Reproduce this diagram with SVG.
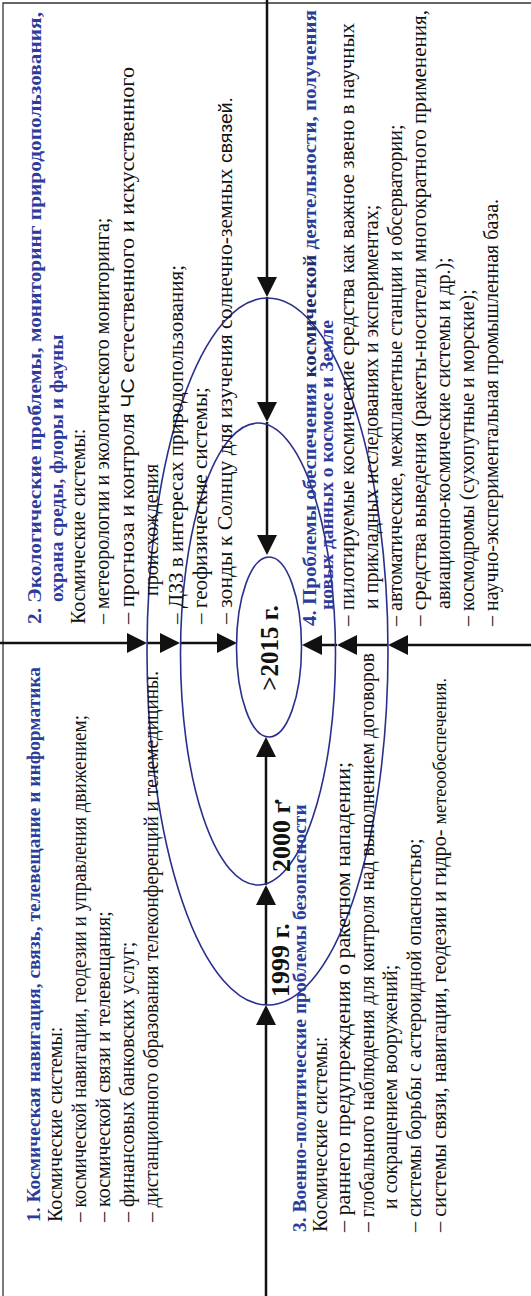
<svg xmlns="http://www.w3.org/2000/svg" width="531" height="1296" viewBox="0 0 531 1296" xml:space="preserve">
<defs>
<marker id="ah" viewBox="0 0 20 20" markerWidth="20" markerHeight="20" refX="16" refY="10" orient="auto" markerUnits="userSpaceOnUse"><path d="M0,0 L20,10 L0,20 z" fill="#111"/></marker>
</defs>
<style>
.ax{stroke:#111;stroke-width:2.5;fill:none;marker-end:url(#ah)}
.el{fill:none;stroke:#2b2f8c;stroke-width:1.6}
.t{font-family:"Liberation Serif","Times New Roman",serif;font-size:20px;fill:#111}
.h{font-family:"Liberation Serif","Times New Roman",serif;font-size:19.5px;font-weight:bold;fill:#2b3c9b}
.yr{font-family:"Liberation Serif","Times New Roman",serif;font-weight:bold;fill:#111}
.frame{stroke:#333;stroke-width:1.3;fill:none}
.sans{font-family:"Liberation Sans",Arial,sans-serif}
</style>
<rect width="531" height="1296" fill="#fff"/>
<path class="frame" d="M3,1296 V3 H531"/>

<g id="connectors">
<line class="ax" x1="0" y1="643" x2="143" y2="643"/>
<line class="ax" x1="147" y1="643" x2="176" y2="643"/>
<line class="ax" x1="180" y1="643" x2="233" y2="643"/>
<line class="ax" x1="531" y1="645" x2="392" y2="645"/>
<line class="ax" x1="388" y1="645" x2="341" y2="645"/>
<line class="ax" x1="337" y1="645" x2="306" y2="645"/>
<line class="ax" x1="267" y1="0" x2="267" y2="293"/>
<line class="ax" x1="267" y1="297" x2="267" y2="418"/>
<line class="ax" x1="267" y1="422" x2="267" y2="551"/>
<line class="ax" x1="266" y1="1296" x2="266" y2="1009"/>
<line class="ax" x1="266" y1="1005" x2="266" y2="889"/>
<line class="ax" x1="266" y1="885" x2="266" y2="741"/>
</g>

<g id="e1999"><ellipse class="el" cx="267.5" cy="651.5" rx="120.5" ry="353.5"/></g>
<g id="e2000"><ellipse class="el" cx="258" cy="654" rx="77.5" ry="231"/></g>
<g id="e2015"><ellipse class="el" cx="269" cy="647" rx="32.5" ry="90"/></g>

<g transform="rotate(-90)">
<g id="y2015"><text class="yr" font-size="25" x="-648" y="278" text-anchor="middle">&gt;2015 г.</text></g>
<g id="y1999"><text class="yr" font-size="26" x="-997" y="289">1999 г.</text></g>
<g id="y2000"><text class="yr" font-size="26" x="-872" y="290">2000 г<tspan dy="-11">.</tspan></text></g>

<g id="n1">
<text class="h" x="-1222" y="40" textLength="555" lengthAdjust="spacingAndGlyphs">1. Космическая навигация, связь, телевещание и информатика</text>
<text class="t" x="-1222" y="62">Космические системы:</text>
<text class="t" x="-1222" y="86" textLength="507" lengthAdjust="spacingAndGlyphs">– космической навигации, геодезии и управления движением;</text>
<text class="t" x="-1222" y="110">– космической связи и телевещания;</text>
<text class="t" x="-1222" y="134">– финансовых банковских услуг;</text>
<text class="t" x="-1222" y="158" textLength="551" lengthAdjust="spacingAndGlyphs">– дистанционного образования телеконференций и телемедицины.</text>
</g>

<g id="n2">
<text class="h" x="-624" y="41" textLength="612" lengthAdjust="spacingAndGlyphs">2. Экологические проблемы, мониторинг природопользования,</text>
<text class="h" x="-602" y="63">охрана среды, флоры и фауны</text>
<text class="t" x="-624" y="85">Космические системы:</text>
<text class="t" x="-624" y="109">– метеорологии и экологического  мониторинга;</text>
<text class="t" x="-624" y="134" textLength="557" lengthAdjust="spacingAndGlyphs">– прогноза и контроля <tspan class="sans" font-size="19">ЧС</tspan> естественного и искусственного</text>
<text class="t" x="-596" y="158">происхождения</text>
<text class="t" x="-624" y="183" textLength="359" lengthAdjust="spacingAndGlyphs">– ДЗЗ в интересах природопользования;</text>
<text class="t" x="-624" y="207" textLength="237" lengthAdjust="spacingAndGlyphs">– геофизические системы;</text>
<text class="t" x="-624" y="232" textLength="527" lengthAdjust="spacingAndGlyphs">– зонды к Солнцу для изучения солнечно-земных <tspan class="sans" font-size="18">связей.</tspan></text>
</g>

<g id="n3">
<text class="h" x="-1232" y="306">3. Военно-политические проблемы безопасности</text>
<text class="t" x="-1232" y="327">Космические системы:</text>
<text class="t" x="-1232" y="350" textLength="470" lengthAdjust="spacingAndGlyphs">– раннего предупреждения о ракетном нападении;</text>
<text class="t" x="-1232" y="374" textLength="579" lengthAdjust="spacingAndGlyphs">– глобального наблюдения для контроля над выполнением договоров</text>
<text class="t" x="-1209" y="397">и сокращением вооружений;</text>
<text class="t" x="-1232" y="421">– системы борьбы с астероидной опасностью;</text>
<text class="t" x="-1232" y="446" textLength="554" lengthAdjust="spacingAndGlyphs">– системы связи, навигации, геодезии и гидро- <tspan font-size="18">метеообеспечения.</tspan></text>
</g>

<g id="n4">
<text class="h" x="-626" y="316" textLength="616" lengthAdjust="spacingAndGlyphs">4. Проблемы обеспечения <tspan fill="#1f2a6e">космической</tspan> деятельности, получения</text>
<text class="h" x="-610" y="333">новых данных о космосе и Земле</text>
<text class="t" x="-626" y="354" textLength="603" lengthAdjust="spacingAndGlyphs">– пилотируемые космические средства как важное звено в научных</text>
<text class="t" x="-609" y="378">и прикладных исследованиях и экспериментах;</text>
<text class="t" x="-626" y="402">– автоматические, межпланетные станции и обсерватории;</text>
<text class="t" x="-626" y="426" textLength="616" lengthAdjust="spacingAndGlyphs">– средства выведения (ракеты-носители многократного применения,</text>
<text class="t" x="-609" y="450">авиационно-космические системы и др.);</text>
<text class="t" x="-626" y="474">– космодромы (сухопутные и морские);</text>
<text class="t" x="-626" y="498">– научно-экспериментальная  промышленная база.</text>
</g>
</g>
</svg>
